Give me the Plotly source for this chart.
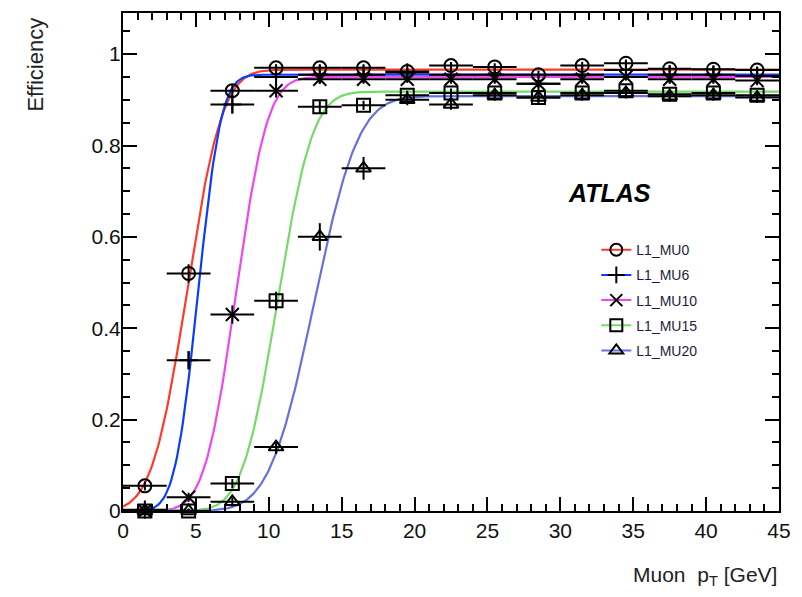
import math
import numpy as np
import plotly.graph_objects as go

# ---- data ----
pt_centers = [1.5, 4.5, 7.5, 10.5, 13.5, 16.5, 19.5, 22.5, 25.5, 28.5, 31.5, 34.5, 37.5, 40.5, 43.5]
pt_halfwidth = [1.5] * 15

series_names = ["L1_MU0", "L1_MU6", "L1_MU10", "L1_MU15", "L1_MU20"]
eff_mu0 = [0.055, 0.52, 0.92, 0.97, 0.97, 0.97, 0.962, 0.975, 0.972, 0.955, 0.975, 0.98, 0.968, 0.967, 0.965]
eff_mu6 = [0.003, 0.33, 0.89, 0.95, 0.955, 0.955, 0.96, 0.955, 0.955, 0.935, 0.955, 0.965, 0.955, 0.955, 0.952]
eff_mu10 = [0.0, 0.03, 0.43, 0.92, 0.945, 0.945, 0.945, 0.945, 0.945, 0.935, 0.945, 0.95, 0.945, 0.945, 0.942]
eff_mu15 = [0.0, 0.0, 0.06, 0.46, 0.885, 0.888, 0.91, 0.915, 0.915, 0.905, 0.915, 0.92, 0.912, 0.915, 0.91]
eff_mu20 = [0.0, 0.0, 0.02, 0.14, 0.60, 0.75, 0.90, 0.89, 0.91, 0.905, 0.91, 0.915, 0.908, 0.91, 0.905]
eff_err = [
    [0.01, 0.02, 0.015, 0.008, 0.008, 0.008, 0.008, 0.008, 0.008, 0.008, 0.008, 0.008, 0.008, 0.008, 0.008],
    [0.005, 0.02, 0.02, 0.01, 0.008, 0.008, 0.008, 0.008, 0.008, 0.008, 0.008, 0.008, 0.008, 0.008, 0.008],
    [0.005, 0.01, 0.02, 0.015, 0.01, 0.008, 0.008, 0.008, 0.008, 0.008, 0.008, 0.008, 0.008, 0.008, 0.008],
    [0.005, 0.005, 0.01, 0.02, 0.015, 0.01, 0.01, 0.01, 0.01, 0.01, 0.01, 0.01, 0.01, 0.01, 0.01],
    [0.005, 0.005, 0.01, 0.015, 0.03, 0.025, 0.012, 0.012, 0.012, 0.012, 0.012, 0.012, 0.012, 0.012, 0.012],
]

# fitted turn-on curve parameters (plateau, threshold, resolution)
fit_plateau = [0.966, 0.955, 0.95, 0.918, 0.908]
fit_mu = [4.4, 5.15, 7.75, 10.6, 13.1]
fit_sigma = [1.9, 1.25, 1.7, 1.9, 2.4]

colors = ["#ff3a2a", "#0a3cff", "#f046f0", "#74dc66", "#6670e0"]
symbols = ["circle-open", "cross-thin-open", "x-thin-open", "square-open", "triangle-up-open"]

all_eff = [eff_mu0, eff_mu6, eff_mu10, eff_mu15, eff_mu20]

xfit = np.linspace(0, 45, 451)
erf_v = np.vectorize(math.erf)

fig = go.Figure()

for i in range(5):
    yfit = fit_plateau[i] * 0.5 * (1 + erf_v((xfit - fit_mu[i]) / (math.sqrt(2) * fit_sigma[i])))
    fig.add_trace(go.Scatter(x=xfit, y=yfit, mode="lines",
                             line=dict(color=colors[i], width=2.2),
                             showlegend=False, hoverinfo="skip"))

for i in range(5):
    fig.add_trace(go.Scatter(
        x=pt_centers, y=all_eff[i], mode="markers",
        marker=dict(symbol=symbols[i], size=13, color="black",
                    line=dict(color="black", width=2)),
        error_x=dict(type="data", array=pt_halfwidth, color="black", thickness=2, width=0),
        error_y=dict(type="data", array=eff_err[i], color="black", thickness=2, width=0),
        cliponaxis=False, showlegend=False))

# legend entries
for i in range(5):
    fig.add_trace(go.Scatter(
        x=[None], y=[None], mode="lines+markers", name=series_names[i],
        legendgroup=series_names[i],
        line=dict(color=colors[i], width=2),
        marker=dict(symbol=symbols[i], size=12, color="black",
                    line=dict(color="black", width=2))))

font_main = "Liberation Sans, Arial, sans-serif"

fig.update_layout(
    width=802, height=597,
    margin=dict(l=123, r=22, t=11, b=86),
    paper_bgcolor="white", plot_bgcolor="white",
    font=dict(family=font_main, size=21, color="black"),
    legend=dict(x=0.7215, y=0.556, xanchor="left", yanchor="top",
                bgcolor="rgba(0,0,0,0)", font=dict(size=14, color="#1c1c40"),
                tracegroupgap=4, itemwidth=30),
    showlegend=True,
)

axis_common = dict(showgrid=False, zeroline=False, showline=True, linecolor="black",
                   linewidth=2, mirror="allticks", ticks="inside", ticklen=14,
                   tickwidth=2, tickcolor="black",
                   tickfont=dict(family=font_main, size=21, color="#111"))

fig.update_xaxes(range=[0, 45], dtick=5, tick0=0,
                 minor=dict(dtick=1, ticks="inside", ticklen=7, tickwidth=1.5, tickcolor="black"),
                 **axis_common)
fig.update_yaxes(range=[0, 1.09], dtick=0.2, tick0=0, ticklabelstandoff=-4,
                 minor=dict(dtick=0.05, ticks="inside", ticklen=7, tickwidth=1.5, tickcolor="black"),
                 **axis_common)

fig.add_annotation(text="Efficiency", xref="paper", yref="paper",
                   x=-0.134, y=0.995, xanchor="center", yanchor="top",
                   textangle=-90, showarrow=False,
                   font=dict(family=font_main, size=22, color="#222"))
fig.add_annotation(text="Muon  p<sub>T</sub> [GeV]", xref="paper", yref="paper",
                   x=1.0, y=-0.13, xanchor="right", yanchor="middle",
                   showarrow=False, font=dict(family=font_main, size=21, color="#222"))
fig.add_annotation(text="<b><i>ATLAS</i></b>", xref="paper", yref="paper",
                   x=0.741, y=0.638, xanchor="center", yanchor="middle",
                   showarrow=False, font=dict(family=font_main, size=25, color="black"))

fig.write_html("out.html")
